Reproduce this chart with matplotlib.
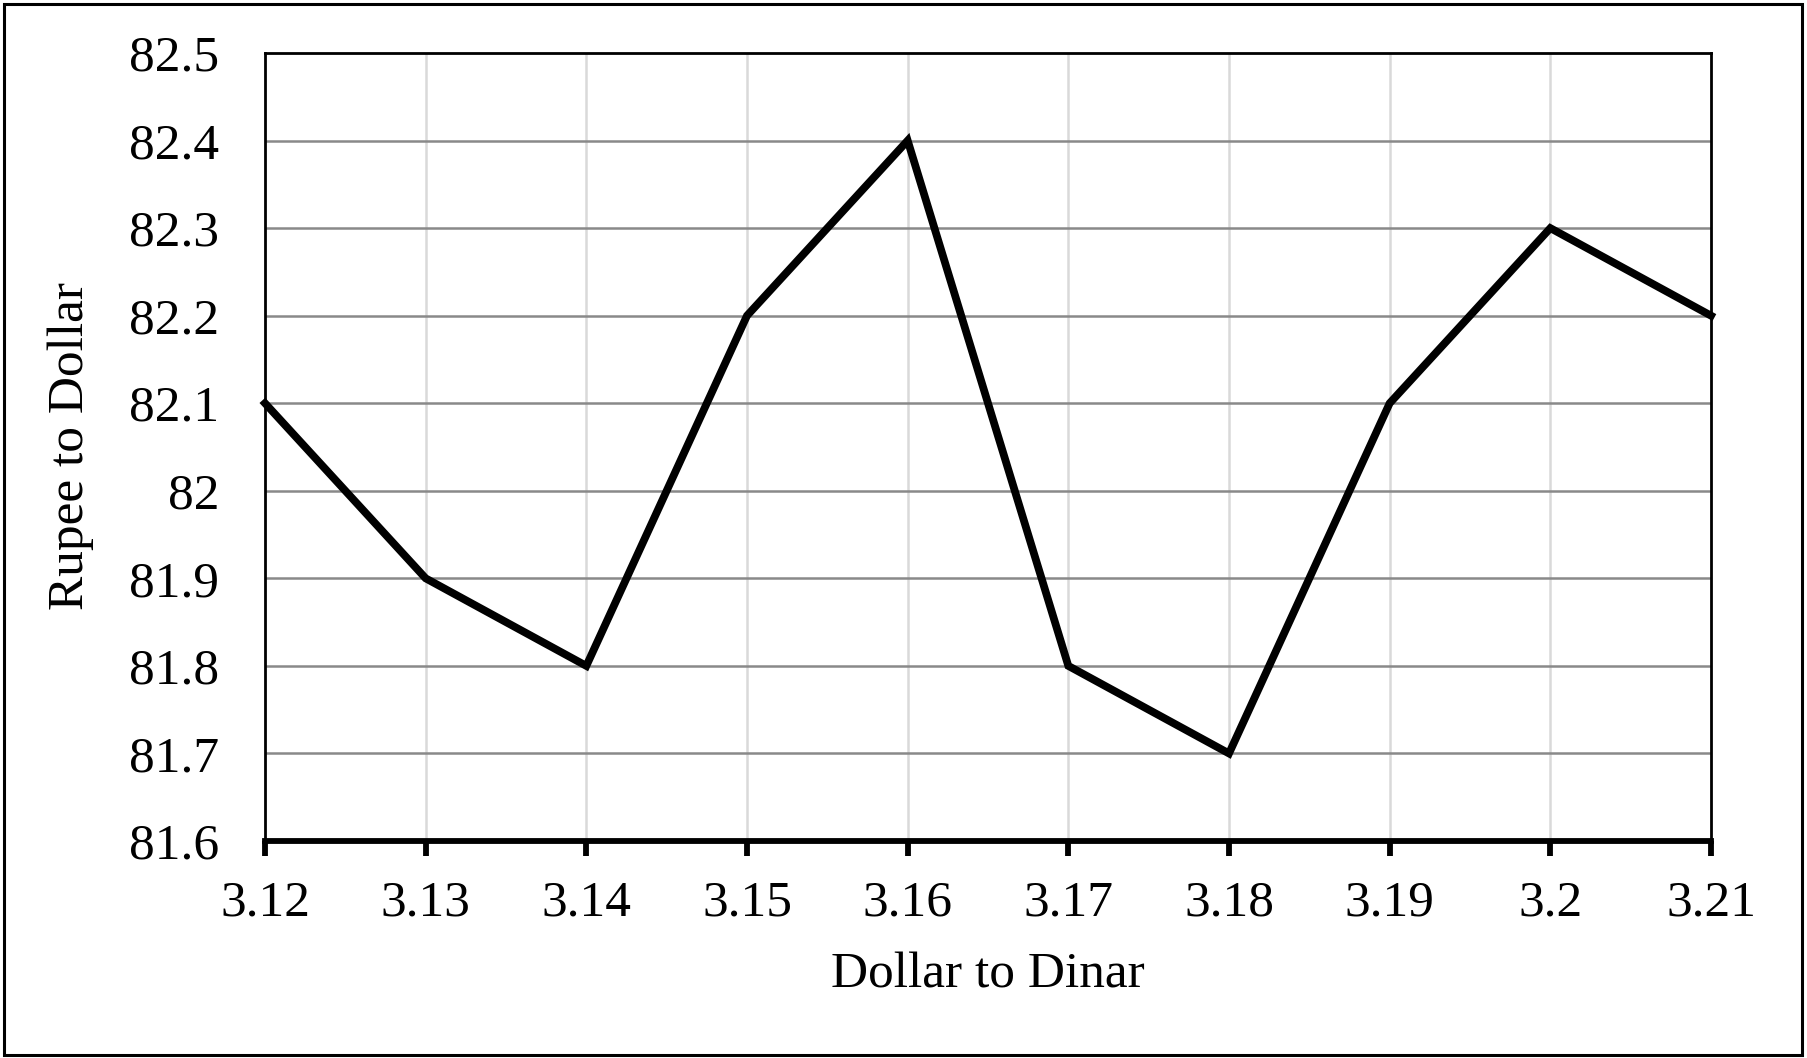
#!/usr/bin/env python

import matplotlib
matplotlib.use('Agg')
import matplotlib.pyplot as plt
from matplotlib.patches import Rectangle

# Dollar to Dinar vs Rupee to Dollar
dinar = [3.12, 3.13, 3.14, 3.15, 3.16, 3.17, 3.18, 3.19, 3.20, 3.21]
rupee = [82.1, 81.9, 81.8, 82.2, 82.4, 81.8, 81.7, 82.1, 82.3, 82.2]

xtick_labels = ['3.12', '3.13', '3.14', '3.15', '3.16', '3.17', '3.18', '3.19', '3.2', '3.21']
yticks = [81.6, 81.7, 81.8, 81.9, 82.0, 82.1, 82.2, 82.3, 82.4, 82.5]
ytick_labels = ['81.6', '81.7', '81.8', '81.9', '82', '82.1', '82.2', '82.3', '82.4', '82.5']

plt.rcParams['font.family'] = ['Liberation Serif', 'DejaVu Serif']
FS = 37


def PlotRates():
    fig = plt.figure(figsize=(18.08, 10.58), dpi=100)
    ax = fig.add_axes([265 / 1808, 1 - 841 / 1058, (1711 - 265) / 1808, (841 - 53) / 1058])

    # light vertical grid, darker horizontal grid (excel style)
    for x in dinar[1:-1]:
        ax.axvline(x, color='#d9d9d9', lw=1.8, zorder=1)
    for y in yticks[1:-1]:
        ax.axhline(y, color='#898989', lw=1.8, zorder=1)

    ax.plot(dinar, rupee, color='black', lw=5.6, solid_joinstyle='miter', zorder=3, clip_on=False)

    ax.set_xlim(dinar[0], dinar[-1])
    ax.set_ylim(yticks[0], yticks[-1])
    ax.set_xticks(dinar)
    ax.set_xticklabels(xtick_labels)
    ax.set_yticks(yticks)
    ax.set_yticklabels(ytick_labels)

    ax.tick_params(axis='x', length=11, width=4.2, color='black', pad=17, labelsize=FS)
    ax.tick_params(axis='y', length=0, pad=33, labelsize=FS)

    for side in ['left', 'top', 'right']:
        ax.spines[side].set_linewidth(2.0)
        ax.spines[side].set_color('black')
    ax.spines['bottom'].set_linewidth(4.2)
    ax.spines['bottom'].set_zorder(4)

    ax.set_xlabel('Dollar to Dinar', fontsize=FS)
    ax.set_ylabel('Rupee to Dollar', fontsize=FS)
    ax.xaxis.set_label_coords(0.5, (841 - 975) / 788, transform=ax.transAxes)
    ax.xaxis.label.set_va('center')
    ax.yaxis.set_label_coords((71 - 265) / 1446, 0.5 + (447 - 446) / 788, transform=ax.transAxes)
    ax.yaxis.label.set_va('center')

    # outer chart border
    fig.patches.append(Rectangle((4.5 / 1808, 3.5 / 1058), 1798 / 1808, 1051 / 1058,
                                 transform=fig.transFigure, fill=False, lw=2.2,
                                 edgecolor='black'))

    fig.savefig('out.png', dpi=100)


if __name__ == "__main__":
    PlotRates()
